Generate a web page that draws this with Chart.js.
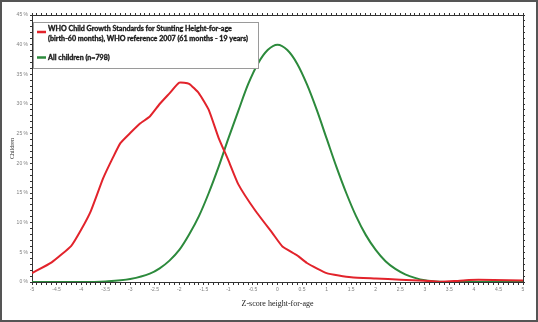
<!DOCTYPE html>
<html lang="en">
<head>
  <meta charset="UTF-8">
  <title>Z-score height-for-age</title>
  <script src="https://cdn.jsdelivr.net/npm/chart.js"></script>
  <style>
    body { margin: 0; background: #ffffff; }
    .wrap { position: relative; width: 538px; height: 322px; }
    .frame { position: absolute; left: 0; top: 0; width: 538px; height: 322px; box-sizing: border-box; border: 2px solid #555; pointer-events: none; }
    canvas { display: block; }
  </style>
</head>
<body>
  <div class="wrap">
    <canvas id="zChart" width="538" height="322"></canvas>
    <div class="frame"></div>
  </div>

  <script>
    // values (x = z-score, y = % of children)
    const whoX = [-5, -4.6, -4.2, -4.0, -3.8, -3.55, -3.35, -3.2, -3.0, -2.8, -2.6, -2.4, -2.2, -2.0, -1.8, -1.6, -1.4, -1.2, -1.0, -0.8, -0.45, -0.1, 0.1, 0.4, 0.6, 1.0, 1.5, 2.0, 2.5, 3.0, 3.3, 3.6, 3.9, 4.4, 5.0];
    const whoY = [1.5, 3.3, 6.1, 8.8, 12.0, 17.5, 21.0, 23.4, 25.1, 26.7, 27.9, 30.0, 31.8, 33.6, 33.4, 31.8, 29.0, 24.3, 20.5, 16.5, 12.0, 8.2, 6.0, 4.5, 3.2, 1.5, 0.8, 0.6, 0.4, 0.2, 0.05, 0.15, 0.35, 0.35, 0.25];

    const allX = [-5, -4, -3.5, -3.0, -2.6, -2.4, -2.2, -2.0, -1.8, -1.6, -1.4, -1.2, -1.0, -0.8, -0.6, -0.4, -0.2, 0, 0.2, 0.4, 0.6, 0.8, 1.0, 1.2, 1.4, 1.6, 1.8, 2.0, 2.2, 2.4, 2.6, 2.8, 3.0, 3.3, 3.5, 4, 5];
    const allY = [0, 0, 0.1, 0.5, 1.4, 2.3, 3.6, 5.4, 8.0, 11.1, 15.0, 19.4, 24.2, 28.8, 33.3, 36.8, 39.1, 40.0, 39.1, 36.8, 33.3, 29.0, 24.2, 19.4, 15.0, 11.1, 7.9, 5.4, 3.5, 2.2, 1.3, 0.7, 0.3, 0.05, 0, 0, 0];

    const whoLabel = ["WHO Child Growth Standards for Stunting Height-for-age", "(birth-60 months), WHO reference 2007 (61 months - 19 years)"];
    const allLabel = ["All children (n=798)"];

    const xMin = -5, xMax = 5, yMin = 0, yMax = 45;

    const RED = "#e2232b";
    const GREEN = "#2c8a3c";
    const AXIS = "#333";
    const TICKTXT = "#808080";

    const pts = (xs, ys) => xs.map((x, i) => ({ x, y: ys[i] }));

    // legend box drawn inside the plot, like the original
    const boxLegend = {
      id: "boxLegend",
      afterDatasetsDraw(chart) {
        const ctx = chart.ctx;
        const bx = 33, by = 22, bw = 225, bh = 46;
        ctx.save();
        ctx.fillStyle = "#fff";
        ctx.fillRect(bx, by, bw, bh);
        ctx.strokeStyle = "#9a9a9a";
        ctx.lineWidth = 1;
        ctx.strokeRect(bx + 0.5, by + 0.5, bw, bh);

        ctx.font = "bold 10px Lato";
        const size = Math.min(10 * 184 / ctx.measureText(whoLabel[0]).width, 10 * 207 / ctx.measureText(whoLabel[1]).width);
        ctx.font = "bold " + size.toFixed(2) + "px Lato";
        ctx.fillStyle = "#1a1a1a";
        ctx.strokeStyle = "#1a1a1a";
        ctx.lineWidth = 0.35;
        ctx.textBaseline = "middle";
        ctx.textAlign = "left";
        const lines = [[whoLabel[0], 28.5], [whoLabel[1], 38.5], [allLabel[0], 57.5]];
        lines.forEach(([t, y]) => { ctx.fillText(t, 48, y); ctx.strokeText(t, 48, y); });

        ctx.lineWidth = 2.5;
        ctx.strokeStyle = RED;
        ctx.beginPath(); ctx.moveTo(37, 32); ctx.lineTo(46, 32); ctx.stroke();
        ctx.strokeStyle = GREEN;
        ctx.beginPath(); ctx.moveTo(37, 57.5); ctx.lineTo(46, 57.5); ctx.stroke();
        ctx.restore();
      }
    };

    const xLabel = v => {
      const r = Math.round(v * 10) / 10;
      return Math.abs(r * 2 - Math.round(r * 2)) < 1e-6 ? String(r) : "";
    };
    const yLabel = v => (Math.round(v) % 5 === 0 ? Math.round(v) + " %" : "");

    const tickFont = { family: "Liberation Sans", size: 5 };

    new Chart(document.getElementById("zChart"), {
      type: "line",
      data: {
        datasets: [
          { label: whoLabel.join(" "), data: pts(whoX, whoY), borderColor: RED, borderWidth: 2, pointRadius: 0, tension: 0.15, fill: false },
          { label: allLabel[0], data: pts(allX, allY), borderColor: GREEN, borderWidth: 2, pointRadius: 0, tension: 0.4, cubicInterpolationMode: "monotone", fill: false }
        ]
      },
      options: {
        responsive: false,
        animation: false,
        layout: { padding: 0 },
        plugins: { legend: { display: false }, tooltip: { enabled: false } },
        scales: {
          x: {
            type: "linear", position: "bottom", min: xMin, max: xMax,
            afterFit: s => { s.height = 40; },
            grid: { drawOnChartArea: false, tickLength: 3, color: AXIS },
            border: { color: AXIS, width: 1 },
            ticks: { stepSize: 0.1, autoSkip: false, maxRotation: 0, minRotation: 0, padding: 2, color: TICKTXT, font: tickFont, callback: xLabel, maxTicksLimit: 200 },
            title: { display: true, text: "Z-score height-for-age", color: "#222", font: { family: "Liberation Serif", size: 8 }, padding: { top: 0, bottom: 13 } }
          },
          xTop: {
            type: "linear", position: "top", min: xMin, max: xMax,
            afterFit: s => { s.height = 15; },
            grid: { drawOnChartArea: false, tickLength: 2, color: AXIS },
            border: { color: AXIS, width: 1 },
            ticks: { display: false, stepSize: 0.1, autoSkip: false, maxTicksLimit: 200 }
          },
          y: {
            type: "linear", position: "left", min: yMin, max: yMax,
            afterFit: s => { s.width = 32; },
            grid: { drawOnChartArea: false, tickLength: 2, color: AXIS },
            border: { color: AXIS, width: 1 },
            ticks: { stepSize: 1, autoSkip: false, padding: 2, color: TICKTXT, font: tickFont, callback: yLabel, maxTicksLimit: 100 },
            title: { display: true, text: "Children", color: "#333", font: { family: "Liberation Serif", size: 6 }, padding: { top: 9, bottom: 0 } }
          },
          yRight: {
            type: "linear", position: "right", min: yMin, max: yMax,
            afterFit: s => { s.width = 15; },
            grid: { drawOnChartArea: false, tickLength: 2, color: AXIS },
            border: { color: AXIS, width: 1 },
            ticks: { display: false, stepSize: 1, autoSkip: false, maxTicksLimit: 100 }
          }
        }
      },
      plugins: [boxLegend]
    });
  </script>
</body>
</html>
